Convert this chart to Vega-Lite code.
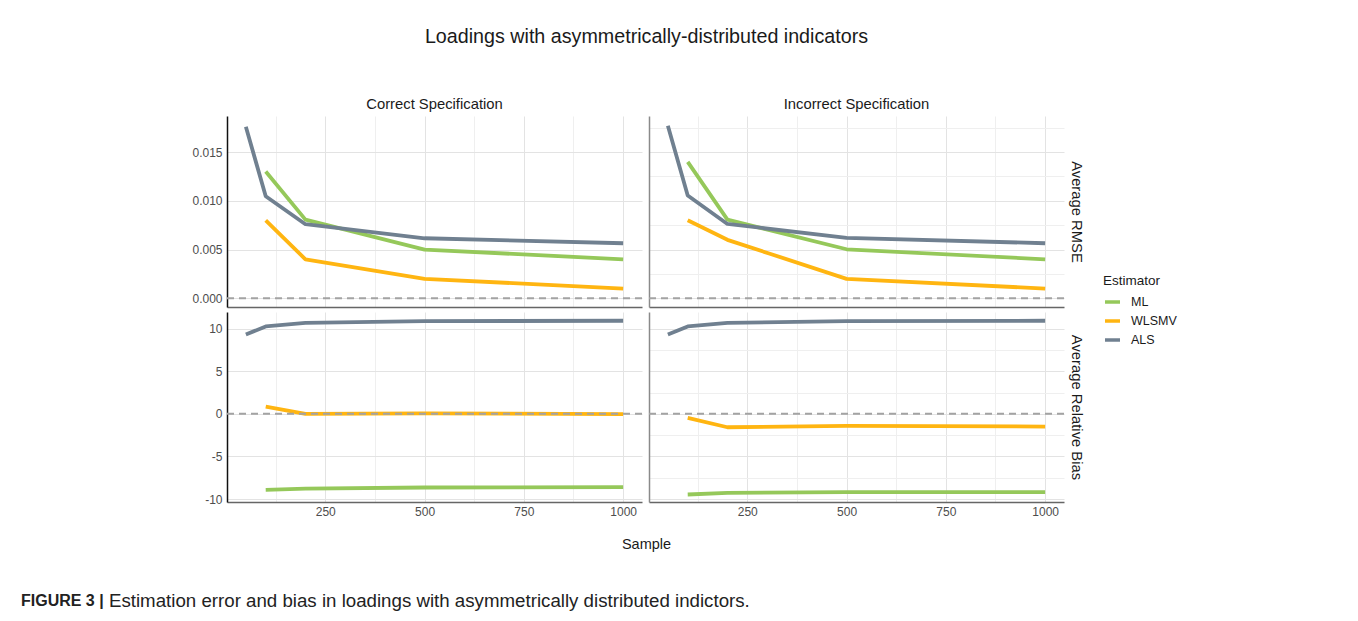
{
  "$schema": "https://vega.github.io/schema/vega-lite/v6.json",
  "padding": {"left": 20, "top": 26, "right": 5, "bottom": 5},
  "config": {
    "font": "Liberation Sans",
    "view": {"stroke": null},
    "axis": {"labelFont": "Liberation Sans", "labelFontSize": 12, "labelColor": "#4d4d4d", "ticks": false, "labelOverlap": false, "labelFlush": false},
    "title": {"font": "Liberation Sans", "fontWeight": "normal", "color": "#1a1a1a"}
  },
  "datasets": {
    "d": [
      {"spec": "Correct", "measure": "RMSE", "est": "ML", "n": 100, "v": 0.0130},
      {"spec": "Correct", "measure": "RMSE", "est": "ML", "n": 200, "v": 0.00807},
      {"spec": "Correct", "measure": "RMSE", "est": "ML", "n": 500, "v": 0.0050},
      {"spec": "Correct", "measure": "RMSE", "est": "ML", "n": 1000, "v": 0.0040},
      {"spec": "Correct", "measure": "RMSE", "est": "WLSMV", "n": 100, "v": 0.0080},
      {"spec": "Correct", "measure": "RMSE", "est": "WLSMV", "n": 200, "v": 0.0040},
      {"spec": "Correct", "measure": "RMSE", "est": "WLSMV", "n": 500, "v": 0.0020},
      {"spec": "Correct", "measure": "RMSE", "est": "WLSMV", "n": 1000, "v": 0.0010},
      {"spec": "Correct", "measure": "RMSE", "est": "ALS", "n": 50, "v": 0.0176},
      {"spec": "Correct", "measure": "RMSE", "est": "ALS", "n": 100, "v": 0.01047},
      {"spec": "Correct", "measure": "RMSE", "est": "ALS", "n": 200, "v": 0.0076},
      {"spec": "Correct", "measure": "RMSE", "est": "ALS", "n": 500, "v": 0.00616},
      {"spec": "Correct", "measure": "RMSE", "est": "ALS", "n": 1000, "v": 0.00565},
      {"spec": "Incorrect", "measure": "RMSE", "est": "ML", "n": 100, "v": 0.0140},
      {"spec": "Incorrect", "measure": "RMSE", "est": "ML", "n": 200, "v": 0.00807},
      {"spec": "Incorrect", "measure": "RMSE", "est": "ML", "n": 500, "v": 0.00503},
      {"spec": "Incorrect", "measure": "RMSE", "est": "ML", "n": 1000, "v": 0.0040},
      {"spec": "Incorrect", "measure": "RMSE", "est": "WLSMV", "n": 100, "v": 0.0080},
      {"spec": "Incorrect", "measure": "RMSE", "est": "WLSMV", "n": 200, "v": 0.0060},
      {"spec": "Incorrect", "measure": "RMSE", "est": "WLSMV", "n": 500, "v": 0.0020},
      {"spec": "Incorrect", "measure": "RMSE", "est": "WLSMV", "n": 1000, "v": 0.0010},
      {"spec": "Incorrect", "measure": "RMSE", "est": "ALS", "n": 50, "v": 0.0177},
      {"spec": "Incorrect", "measure": "RMSE", "est": "ALS", "n": 100, "v": 0.01054},
      {"spec": "Incorrect", "measure": "RMSE", "est": "ALS", "n": 200, "v": 0.00763},
      {"spec": "Incorrect", "measure": "RMSE", "est": "ALS", "n": 500, "v": 0.0062},
      {"spec": "Incorrect", "measure": "RMSE", "est": "ALS", "n": 1000, "v": 0.00565},
      {"spec": "Correct", "measure": "Bias", "est": "ML", "n": 100, "v": -8.92},
      {"spec": "Correct", "measure": "Bias", "est": "ML", "n": 200, "v": -8.77},
      {"spec": "Correct", "measure": "Bias", "est": "ML", "n": 500, "v": -8.65},
      {"spec": "Correct", "measure": "Bias", "est": "ML", "n": 1000, "v": -8.61},
      {"spec": "Correct", "measure": "Bias", "est": "WLSMV", "n": 100, "v": 0.86},
      {"spec": "Correct", "measure": "Bias", "est": "WLSMV", "n": 200, "v": 0.0},
      {"spec": "Correct", "measure": "Bias", "est": "WLSMV", "n": 500, "v": 0.05},
      {"spec": "Correct", "measure": "Bias", "est": "WLSMV", "n": 1000, "v": -0.03},
      {"spec": "Correct", "measure": "Bias", "est": "ALS", "n": 50, "v": 9.32},
      {"spec": "Correct", "measure": "Bias", "est": "ALS", "n": 100, "v": 10.26},
      {"spec": "Correct", "measure": "Bias", "est": "ALS", "n": 200, "v": 10.69},
      {"spec": "Correct", "measure": "Bias", "est": "ALS", "n": 500, "v": 10.88},
      {"spec": "Correct", "measure": "Bias", "est": "ALS", "n": 1000, "v": 10.93},
      {"spec": "Incorrect", "measure": "Bias", "est": "ML", "n": 100, "v": -9.47},
      {"spec": "Incorrect", "measure": "Bias", "est": "ML", "n": 200, "v": -9.28},
      {"spec": "Incorrect", "measure": "Bias", "est": "ML", "n": 500, "v": -9.2},
      {"spec": "Incorrect", "measure": "Bias", "est": "ML", "n": 1000, "v": -9.2},
      {"spec": "Incorrect", "measure": "Bias", "est": "WLSMV", "n": 100, "v": -0.47},
      {"spec": "Incorrect", "measure": "Bias", "est": "WLSMV", "n": 200, "v": -1.57},
      {"spec": "Incorrect", "measure": "Bias", "est": "WLSMV", "n": 500, "v": -1.42},
      {"spec": "Incorrect", "measure": "Bias", "est": "WLSMV", "n": 1000, "v": -1.49},
      {"spec": "Incorrect", "measure": "Bias", "est": "ALS", "n": 50, "v": 9.32},
      {"spec": "Incorrect", "measure": "Bias", "est": "ALS", "n": 100, "v": 10.26},
      {"spec": "Incorrect", "measure": "Bias", "est": "ALS", "n": 200, "v": 10.69},
      {"spec": "Incorrect", "measure": "Bias", "est": "ALS", "n": 500, "v": 10.88},
      {"spec": "Incorrect", "measure": "Bias", "est": "ALS", "n": 1000, "v": 10.93}
    ]
  },
  "title": {"text": "Estimation error and bias in loadings with asymmetrically distributed indictors.", "orient": "bottom", "anchor": "start", "frame": "bounds", "fontSize": 18.7, "color": "#222222", "dx": 88, "dy": -17, "offset": 0},
  "vconcat": [{
    "title": {"text": "FIGURE 3 |", "orient": "bottom", "anchor": "start", "frame": "bounds", "fontSize": 16, "fontWeight": "bold", "color": "#222222", "dx": -171, "offset": 41},
    "vconcat": [{
      "title": {"text": "Sample", "orient": "bottom", "anchor": "middle", "frame": "bounds", "fontSize": 14.5, "offset": 21, "dx": 9},
      "vconcat": [{
        "title": {"text": "Loadings with asymmetrically-distributed indicators", "anchor": "middle", "frame": "bounds", "fontSize": 19.7, "offset": 51, "dx": 9},
        "columns": 2,
        "spacing": {"row": 5, "column": 5},
        "concat": [
          {
            "width": 415, "height": 191,
            "title": {"text": "Correct Specification", "fontSize": 14.8, "offset": 4},
            "layer": [
              {
                "data": {"name": "d"},
                "transform": [{"filter": "datum.spec == 'Correct' && datum.measure == 'RMSE'"}],
                "mark": {"type": "line", "strokeWidth": 3.8, "strokeCap": "butt", "strokeJoin": "round"},
                "encoding": {
                  "x": {"field": "n", "type": "quantitative", "scale": {"domain": [2.5, 1047.5], "nice": false, "zero": false},
                        "axis": {"title": null, "labels": false, "values": [125, 250, 375, 500, 625, 750, 875, 1000], "domainColor": "#666666", "domainWidth": 1.5, "gridColor": {"condition": {"test": "datum.value % 250 == 0", "value": "#e3e3e3"}, "value": "#efefef"}}},
                  "y": {"field": "v", "type": "quantitative", "scale": {"domain": [-0.00089, 0.0187], "nice": false, "zero": false},
                        "axis": {"title": null, "values": [0, 0.0025, 0.005, 0.0075, 0.01, 0.0125, 0.015, 0.0175], "format": ".3f", "labelExpr": "round(datum.value*10000) % 50 == 0 ? datum.label : ''", "labelPadding": 5, "domainColor": "#111111", "domainWidth": 1.5, "gridColor": {"condition": {"test": "round(datum.value*10000) % 50 == 0", "value": "#e3e3e3"}, "value": "#efefef"}}},
                  "color": {"field": "est", "type": "nominal", "title": "Estimator",
                            "scale": {"domain": ["ML", "WLSMV", "ALS"], "range": ["#95c85a", "#ffb511", "#708090"]},
                            "legend": {"orient": "none", "legendX": 876, "legendY": 158, "symbolType": "stroke", "symbolSize": 225, "symbolStrokeWidth": 3.5, "labelFontSize": 12.5, "labelColor": "#1a1a1a", "titleFontSize": 13.5, "titleFontWeight": "normal", "titleColor": "#1a1a1a", "rowPadding": 2, "labelOffset": 9}}
                }
              },
              {
                "data": {"values": [{}]},
                "mark": {"type": "rule", "strokeDash": [7, 5], "color": "#a3a3a3", "strokeWidth": 2},
                "encoding": {"y": {"datum": 0}}
              }
            ]
          },
          {
            "width": 415, "height": 191,
            "title": {"text": "Incorrect Specification", "fontSize": 14.8, "offset": 4},
            "layer": [
              {
                "data": {"name": "d"},
                "transform": [{"filter": "datum.spec == 'Incorrect' && datum.measure == 'RMSE'"}],
                "mark": {"type": "line", "strokeWidth": 3.8, "strokeCap": "butt", "strokeJoin": "round"},
                "encoding": {
                  "x": {"field": "n", "type": "quantitative", "scale": {"domain": [2.5, 1047.5], "nice": false, "zero": false},
                        "axis": {"title": null, "labels": false, "values": [125, 250, 375, 500, 625, 750, 875, 1000], "domainColor": "#666666", "domainWidth": 1.5, "gridColor": {"condition": {"test": "datum.value % 250 == 0", "value": "#e3e3e3"}, "value": "#efefef"}}},
                  "y": {"field": "v", "type": "quantitative", "scale": {"domain": [-0.00089, 0.0187], "nice": false, "zero": false},
                        "axis": {"title": null, "labels": false, "values": [0, 0.0025, 0.005, 0.0075, 0.01, 0.0125, 0.015, 0.0175], "domainColor": "#8a8a8a", "domainWidth": 1.5, "gridColor": {"condition": {"test": "round(datum.value*10000) % 50 == 0", "value": "#e3e3e3"}, "value": "#efefef"}}},
                  "color": {"field": "est", "type": "nominal", "title": "Estimator", "scale": {"domain": ["ML", "WLSMV", "ALS"], "range": ["#95c85a", "#ffb511", "#708090"]}}
                }
              },
              {
                "data": {"values": [{}]},
                "mark": {"type": "rule", "strokeDash": [7, 5], "color": "#a3a3a3", "strokeWidth": 2},
                "encoding": {"y": {"datum": 0, "axis": {"orient": "right", "title": "Average RMSE", "labels": false, "domain": false, "grid": false, "titleFontSize": 14.8, "titleFontWeight": "normal", "titleColor": "#1a1a1a", "titlePadding": 4, "titleAngle": 90}}}
              }
            ],
            "resolve": {"axis": {"y": "independent"}}
          },
          {
            "width": 415, "height": 190,
            "layer": [
              {
                "data": {"name": "d"},
                "transform": [{"filter": "datum.spec == 'Correct' && datum.measure == 'Bias'"}],
                "mark": {"type": "line", "strokeWidth": 3.8, "strokeCap": "butt", "strokeJoin": "round"},
                "encoding": {
                  "x": {"field": "n", "type": "quantitative", "scale": {"domain": [2.5, 1047.5], "nice": false, "zero": false},
                        "axis": {"title": null, "values": [125, 250, 375, 500, 625, 750, 875, 1000], "format": "d", "labelExpr": "datum.value % 250 == 0 ? datum.label : ''", "labelPadding": 4, "domainColor": "#666666", "domainWidth": 1.5, "gridColor": {"condition": {"test": "datum.value % 250 == 0", "value": "#e3e3e3"}, "value": "#efefef"}}},
                  "y": {"field": "v", "type": "quantitative", "scale": {"domain": [-10.35, 11.96], "nice": false, "zero": false},
                        "axis": {"title": null, "values": [-10, -7.5, -5, -2.5, 0, 2.5, 5, 7.5, 10], "labelExpr": "datum.value % 5 == 0 ? (datum.value < 0 ? '-' + abs(datum.value) : '' + datum.value) : ''", "labelPadding": 5, "domainColor": "#111111", "domainWidth": 1.5, "gridColor": {"condition": {"test": "datum.value % 5 == 0", "value": "#e3e3e3"}, "value": "#efefef"}}},
                  "color": {"field": "est", "type": "nominal", "title": "Estimator", "scale": {"domain": ["ML", "WLSMV", "ALS"], "range": ["#95c85a", "#ffb511", "#708090"]}}
                }
              },
              {
                "data": {"values": [{}]},
                "mark": {"type": "rule", "strokeDash": [7, 5], "color": "#a3a3a3", "strokeWidth": 2},
                "encoding": {"y": {"datum": 0}}
              }
            ]
          },
          {
            "width": 415, "height": 190,
            "layer": [
              {
                "data": {"name": "d"},
                "transform": [{"filter": "datum.spec == 'Incorrect' && datum.measure == 'Bias'"}],
                "mark": {"type": "line", "strokeWidth": 3.8, "strokeCap": "butt", "strokeJoin": "round"},
                "encoding": {
                  "x": {"field": "n", "type": "quantitative", "scale": {"domain": [2.5, 1047.5], "nice": false, "zero": false},
                        "axis": {"title": null, "values": [125, 250, 375, 500, 625, 750, 875, 1000], "format": "d", "labelExpr": "datum.value % 250 == 0 ? datum.label : ''", "labelPadding": 4, "domainColor": "#666666", "domainWidth": 1.5, "gridColor": {"condition": {"test": "datum.value % 250 == 0", "value": "#e3e3e3"}, "value": "#efefef"}}},
                  "y": {"field": "v", "type": "quantitative", "scale": {"domain": [-10.35, 11.96], "nice": false, "zero": false},
                        "axis": {"title": null, "labels": false, "values": [-10, -7.5, -5, -2.5, 0, 2.5, 5, 7.5, 10], "domainColor": "#8a8a8a", "domainWidth": 1.5, "gridColor": {"condition": {"test": "datum.value % 5 == 0", "value": "#e3e3e3"}, "value": "#efefef"}}},
                  "color": {"field": "est", "type": "nominal", "title": "Estimator", "scale": {"domain": ["ML", "WLSMV", "ALS"], "range": ["#95c85a", "#ffb511", "#708090"]}}
                }
              },
              {
                "data": {"values": [{}]},
                "mark": {"type": "rule", "strokeDash": [7, 5], "color": "#a3a3a3", "strokeWidth": 2},
                "encoding": {"y": {"datum": 0, "axis": {"orient": "right", "title": "Average Relative Bias", "labels": false, "domain": false, "grid": false, "titleFontSize": 14.8, "titleFontWeight": "normal", "titleColor": "#1a1a1a", "titlePadding": 4, "titleAngle": 90}}}
              }
            ],
            "resolve": {"axis": {"y": "independent"}}
          }
        ]
      }]
    }]
  }]
}
